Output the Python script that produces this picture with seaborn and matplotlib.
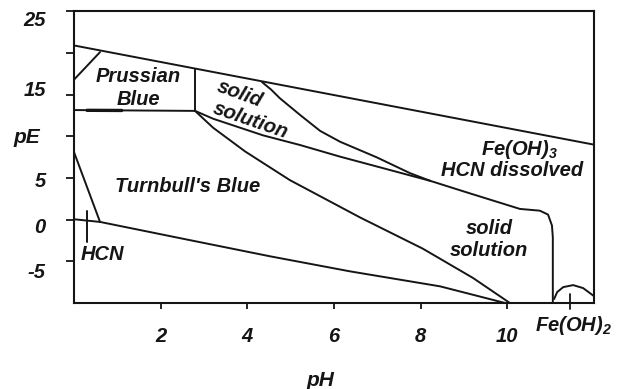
import matplotlib
matplotlib.use("Agg")
import matplotlib.pyplot as plt
import matplotlib.transforms as mtransforms
import numpy as np
import pandas as pd
import seaborn as sns

# ---------------- data (pH, pE) ----------------
o2_ph = [0.0, 12.0]
o2_pe = [20.9, 9.0]
corner_ph = [0.0, 0.6]
corner_pe = [16.8, 20.1]
pb_right_ph = [2.79, 2.79]
pb_right_pe = [18.13, 13.06]
pb_low_ph = [0.0, 2.79]
pb_low_pe = [13.15, 13.05]
pb_low2_ph = [0.3, 1.1]
pb_low2_pe = [13.12, 13.1]
ss_upper_ph = [4.34, 4.55, 4.75, 5.22, 5.68, 6.14, 6.99, 7.75, 8.22, 9.14, 10.29, 10.75, 10.94, 11.03, 11.05, 11.05]
ss_upper_pe = [16.5, 15.6, 14.57, 12.55, 10.65, 9.35, 7.47, 5.59, 4.66, 3.15, 1.29, 1.08, 0.61, -0.7, -2.1, -10.0]
ss_mid_ph = [2.79, 3.21, 4.36, 5.22, 6.14, 7.06, 8.22]
ss_mid_pe = [13.06, 12.11, 10.12, 8.95, 7.56, 6.28, 4.66]
tb_ph = [2.79, 3.21, 3.95, 4.98, 6.60, 8.05, 9.21, 10.06]
tb_pe = [13.06, 11.03, 8.18, 4.75, 0.27, -3.48, -7.0, -10.0]
hcn_ph = [0.6, 2.45, 4.52, 6.37, 8.45, 9.95]
hcn_pe = [-0.27, -2.22, -4.39, -6.2, -8.0, -10.0]
hcn_left_ph = [0.0, 0.6]
hcn_left_pe = [8.1, -0.27]
hcn_flat_ph = [0.0, 0.6]
hcn_flat_pe = [0.05, -0.27]
hcn_tick_ph = [0.3, 0.3]
hcn_tick_pe = [1.0, -2.7]
fe2_ph = [11.08, 11.15, 11.29, 11.52, 11.75, 12.0]
fe2_pe = [-9.52, -8.69, -8.09, -7.85, -8.21, -9.17]
fe2_tick_ph = [11.45, 11.45]
fe2_tick_pe = [-8.9, -10.7]

xtick_vals = [2, 4, 6, 8, 10]
xtick_text = ["2", "4", "6", "8", "10"]
ytick_vals = [-5, 0, 5, 10, 15, 20, 25]
ytick_text = ["-5", "0", "5", "", "15", "", "25"]
ytick_nudge_pt = [-6.3, -3.9, -0.8, 0.0, 4.75, 0.0, -5.0]

region_labels = [
    ("Prussian", 1.48, 17.2, 0),
    ("Blue", 1.48, 14.45, 0),
    ("solid", 3.83, 15.14, -20),
    ("solution", 4.08, 11.9, -19),
    ("Turnbull's Blue", 2.63, 3.92, 0),
    ("HCN", 0.65, -4.12, 0),
    ("HCN dissolved", 10.12, 5.94, 0),
    ("solid", 9.58, -1.01, 0),
    ("solution", 9.58, -3.64, 0),
]

# ---------------- style ----------------
sns.set_style("ticks")
plt.rcParams["font.family"] = ["Liberation Sans", "DejaVu Sans"]
plt.rcParams["mathtext.fontset"] = "custom"
plt.rcParams["mathtext.rm"] = "Liberation Sans:italic:bold"
plt.rcParams["mathtext.it"] = "Liberation Sans:italic:bold"
plt.rcParams["mathtext.bf"] = "Liberation Sans:italic:bold"
plt.rcParams["mathtext.sf"] = "Liberation Sans:italic:bold"

ink = "#151515"
fs = 14.5
tprops = dict(fontsize=fs, fontweight="bold", fontstyle="italic", color=ink)

fig = plt.figure(figsize=(6.21, 3.89), dpi=100)
ax = fig.add_axes([0.1192, 0.221, 0.8373, 0.750])

segments = {
    "o2": (o2_ph, o2_pe),
    "corner": (corner_ph, corner_pe),
    "pb_right": (pb_right_ph, pb_right_pe),
    "pb_low": (pb_low_ph, pb_low_pe),
    "ss_upper": (ss_upper_ph, ss_upper_pe),
    "ss_mid": (ss_mid_ph, ss_mid_pe),
    "tb": (tb_ph, tb_pe),
    "hcn": (hcn_ph, hcn_pe),
    "hcn_left": (hcn_left_ph, hcn_left_pe),
    "hcn_flat": (hcn_flat_ph, hcn_flat_pe),
    "hcn_tick": (hcn_tick_ph, hcn_tick_pe),
    "fe2": (fe2_ph, fe2_pe),
}
rows = []
for name, (xs, ys) in segments.items():
    for x, y in zip(xs, ys):
        rows.append({"seg": name, "pH": x, "pE": y})
df = pd.DataFrame(rows)

sns.lineplot(data=df, x="pH", y="pE", units="seg", estimator=None, sort=False,
             color=ink, lw=1.4, ax=ax, legend=False)
# thicker bit of the Prussian-blue lower boundary
sns.lineplot(x=pb_low2_ph, y=pb_low2_pe, estimator=None, sort=False,
             color=ink, lw=2.4, ax=ax, legend=False)
# Fe(OH)2 marker crossing the axis
sns.lineplot(x=fe2_tick_ph, y=fe2_tick_pe, estimator=None, sort=False,
             color=ink, lw=1.3, ax=ax, legend=False)
ax.lines[-1].set_clip_on(False)

ax.set_xlim(0, 12)
ax.set_ylim(-10, 25)

for s in ax.spines.values():
    s.set_linewidth(1.5)
    s.set_color(ink)

ax.set_xticks(xtick_vals, xtick_text)
ax.set_yticks(ytick_vals, ytick_text)
ax.tick_params(axis="x", direction="out", length=4, width=1.3, pad=13, colors=ink)
ax.tick_params(axis="y", direction="out", length=6, width=1.3, pad=14.4, colors=ink)
for lab in ax.get_xticklabels() + ax.get_yticklabels():
    lab.set_fontsize(fs)
    lab.set_fontweight("bold")
    lab.set_fontstyle("italic")
for lab, dy in zip(ax.get_yticklabels(), ytick_nudge_pt):
    lab.set_transform(lab.get_transform() +
                      mtransforms.ScaledTranslation(0, dy / 72.0, fig.dpi_scale_trans))

ax.set_ylabel("pE", rotation=0, fontsize=15, fontweight="bold", fontstyle="italic",
              color=ink, va="center", ha="center")
ax.yaxis.set_label_coords(-0.0904, 0.569)
ax.set_xlabel("pH", fontsize=15, fontweight="bold", fontstyle="italic",
              color=ink, va="center", ha="center")
ax.xaxis.set_label_coords(0.473, -0.264)

for txt, x, y, rot in region_labels:
    ax.text(x, y, txt, ha="center", va="center", rotation=rot,
            rotation_mode="anchor", **tprops)

ax.text(10.29, 7.73, r"Fe(OH)$_3$", ha="center", va="baseline", **tprops)
ax.text(11.52, -13.4, r"Fe(OH)$_2$", ha="center", va="baseline", clip_on=False, **tprops)

fig.savefig("out.png", dpi=100, facecolor="white")
